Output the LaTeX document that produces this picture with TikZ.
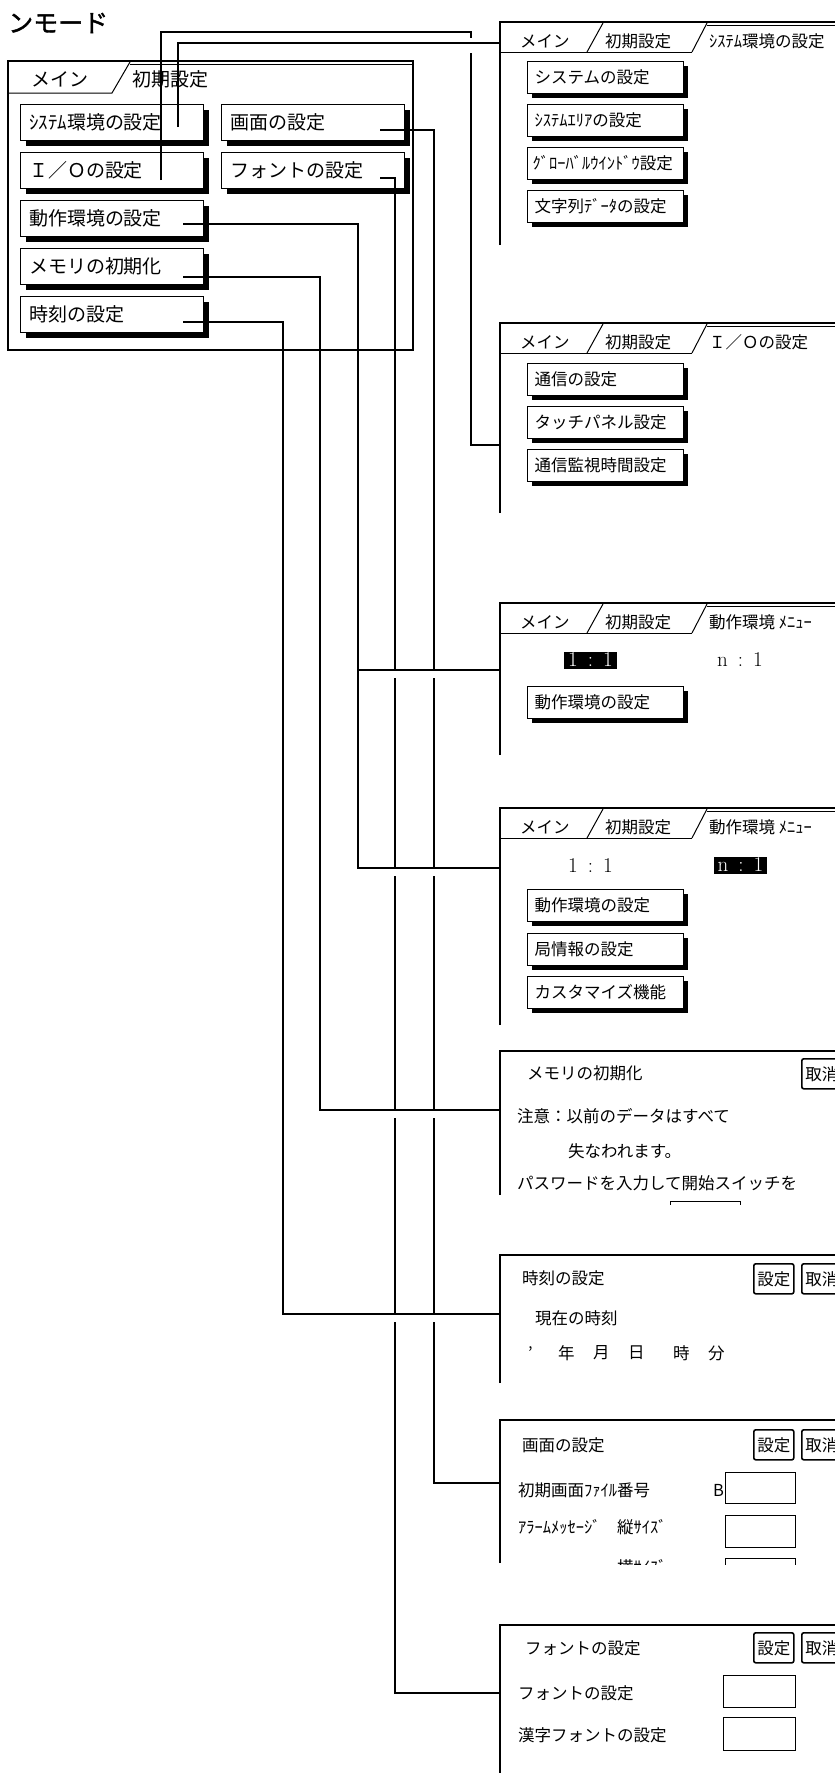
\documentclass[tikz,border=0pt]{standalone}
\usepackage{fontspec}
\newfontfamily\jp{Noto Sans CJK JP}
\newfontfamily\jpbold[AutoFakeBold=1.5]{Noto Sans CJK JP}
\usetikzlibrary{shadows}
\newcommand\tabwin[4]{%
  \draw[win] (500,#2) -- (500,#1) -- (840,#1);
  \draw[thinl] (500,#1+30) -- (692,#1+30);
  \draw[thinl] (587,#1+30) -- (603,#1+1);
  \draw[thinl] (692,#1+30) -- (707,#1+1);
  \draw[thinl] (707,#1+3) -- (840,#1+3);
  \node[rtxt] (#4a) at (520,#1+19) {メイン};
  \node[rtxt] (#4b) at (605,#1+19) {初期設定};
  \node[rtxt] (#4c) at (709,#1+19) {#3};
}
\newcommand\dlgwin[2]{%
  \draw[win] (500,#2) -- (500,#1) -- (840,#1);
}
\newcommand\ratio[2]{#1\hspace{10pt}:\hspace{10pt}#2}
\begin{document}
\begin{tikzpicture}[x=1pt,y=-1pt,
  conn/.style={line width=2pt},
  win/.style={line width=1.4pt},
  thinl/.style={line width=1pt},
  btnbase/.style={draw, fill=white, line width=1pt, anchor=north west, inner ysep=0, align=left},
  mbtn/.style={btnbase, minimum width=183, minimum height=36, text width=166, inner xsep=8.5,
    font=\jp\fontsize{19}{20}\selectfont,
    drop shadow={shadow xshift=5pt, shadow yshift=-5pt, opacity=1, fill=black}},
  rbtn/.style={btnbase, minimum width=156, minimum height=32, text width=142, inner xsep=7,
    font=\jp\fontsize{16.5}{17}\selectfont,
    drop shadow={shadow xshift=4pt, shadow yshift=-4pt, opacity=1, fill=black}},
  mtxt/.style={anchor=west, inner sep=0, font=\jp\fontsize{19}{20}\selectfont},
  rtxt/.style={anchor=west, inner sep=0, font=\jp\fontsize{16.5}{17}\selectfont},
  dbtn/.style={draw, line width=1.6pt, rounded corners=2pt, anchor=north west, minimum width=40,
    minimum height=30, inner sep=0, font=\jp\fontsize{16.5}{17}\selectfont},
  ebox/.style={draw, line width=1pt, anchor=north west, minimum width=70, minimum height=31, inner sep=0},
  hl/.style={fill=black, text=white, inner sep=0, font=\fontsize{21}{21}\selectfont},
  num/.style={anchor=west, inner sep=0, font=\fontsize{21}{21}\selectfont}
]
\useasboundingbox (0,0) rectangle (835,1773);
\clip (0,0) rectangle (835,1773);

% ---------- title ----------
\node[anchor=west, inner sep=0, font=\jpbold\bfseries\fontsize{25}{26}\selectfont] (title) at (8,23) {ンモード};

% ---------- main window ----------
\draw[win] (8,61) rectangle (413,350);
\draw[thinl] (8,93) -- (112,93) -- (130,62);
\draw[thinl] (130,64) -- (413,64);
\node[mtxt] (mtabA) at (31,79) {メイン};
\node[mtxt] (mtabB) at (132,79) {初期設定};

\node[mbtn] (bsys)  at (20,104) {ｼｽﾃﾑ環境の設定};
\node[mbtn] (bgam)  at (221,104) {画面の設定};
\node[mbtn] (bio)   at (20,152) {Ｉ／Ｏの設定};
\node[mbtn] (bfont) at (221,152) {フォントの設定};
\node[mbtn] (bdosa) at (20,200) {動作環境の設定};
\node[mbtn] (bmem)  at (20,248) {メモリの初期化};
\node[mbtn] (bclk)  at (20,296) {時刻の設定};

% ---------- window 1 : system environment ----------
\tabwin{22}{245}{ｼｽﾃﾑ環境の設定}{wa}
\node[rbtn] (w1b1) at (527,61)  {システムの設定};
\node[rbtn] (w1b2) at (527,104) {ｼｽﾃﾑｴﾘｱの設定};
\node[rbtn, inner xsep=5, text width=146] (w1b3) at (527,147) {ｸﾞﾛｰﾊﾞﾙｳｲﾝﾄﾞｳ設定};
\node[rbtn] (w1b4) at (527,190) {文字列ﾃﾞｰﾀの設定};

% ---------- window 2 : I/O ----------
\tabwin{323}{513}{Ｉ／Ｏの設定}{wb}
\node[rbtn] (w2b1) at (527,363) {通信の設定};
\node[rbtn] (w2b2) at (527,406) {タッチパネル設定};
\node[rbtn] (w2b3) at (527,449) {通信監視時間設定};

% ---------- window 3 : operation 1:1 ----------
\tabwin{603}{755}{動作環境 ﾒﾆｭｰ}{wc}
\node[hl, minimum width=53, minimum height=17] (w3one) at (590.5,660) {\ratio{1}{1}};
\node[num] (w3n) at (717,660) {\ratio{n}{1}};
\node[rbtn] (w3b1) at (527,686) {動作環境の設定};

% ---------- window 4 : operation n:1 ----------
\tabwin{808}{1025}{動作環境 ﾒﾆｭｰ}{wd}
\node[num] (w4one) at (568,866) {\ratio{1}{1}};
\node[hl, minimum width=53, minimum height=17] (w4n) at (740.5,865) {\ratio{n}{1}};
\node[rbtn] (w4b1) at (527,889) {動作環境の設定};
\node[rbtn] (w4b2) at (527,933) {局情報の設定};
\node[rbtn] (w4b3) at (527,976) {カスタマイズ機能};

% ---------- window 5 : memory init ----------
\dlgwin{1051}{1195}
\begin{scope}
\clip (490,1040) rectangle (840,1204);
\node[rtxt] (w5t) at (527,1073) {メモリの初期化};
\node[dbtn] (w5c) at (801,1058) {取消};
\node[rtxt] (w5l1) at (517,1116) {注意：以前のデータはすべて};
\node[rtxt] (w5l2) at (568,1151) {失なわれます。};
\node[rtxt] (w5l3) at (517,1183) {パスワードを入力して開始スイッチを};
\node[ebox] (w5e) at (670,1201) {};
\end{scope}

% ---------- window 6 : clock ----------
\dlgwin{1255}{1383}
\node[rtxt] (w6t) at (522,1278) {時刻の設定};
\node[dbtn] (w6s) at (753,1263) {設定};
\node[dbtn] (w6c) at (801,1263) {取消};
\node[rtxt] (w6l) at (535,1318) {現在の時刻};
\node[rtxt] (w6a) at (528,1353) {’};
\node[rtxt] (w6y) at (558,1353) {年};
\node[rtxt] (w6m) at (593,1353) {月};
\node[rtxt] (w6d) at (628,1353) {日};
\node[rtxt] (w6h) at (673,1353) {時};
\node[rtxt] (w6n) at (708,1353) {分};

% ---------- window 7 : screen ----------
\dlgwin{1420}{1563}
\begin{scope}
\clip (490,1410) rectangle (840,1564);
\node[rtxt] (w7t) at (522,1445) {画面の設定};
\node[dbtn] (w7s) at (753,1429) {設定};
\node[dbtn] (w7c) at (801,1429) {取消};
\node[rtxt] (w7l1) at (518,1490) {初期画面ﾌｧｲﾙ番号};
\node[rtxt] (w7B) at (713,1490) {B};
\node[ebox] (w7e1) at (725,1472) {};
\node[rtxt] (w7l2) at (518,1527) {ｱﾗｰﾑﾒｯｾｰｼﾞ};
\node[rtxt] (w7l3) at (617,1527) {縦ｻｲｽﾞ};
\node[ebox, minimum height=32] (w7e2) at (725,1515) {};
\node[rtxt] (w7l4) at (617,1567) {横ｻｲｽﾞ};
\node[ebox, minimum height=32] (w7e3) at (725,1558) {};
\end{scope}

% ---------- window 8 : font ----------
\dlgwin{1625}{1780}
\node[rtxt] (w8t) at (525,1648) {フォントの設定};
\node[dbtn] (w8s) at (753,1632) {設定};
\node[dbtn] (w8c) at (801,1632) {取消};
\node[rtxt] (w8l1) at (518,1693) {フォントの設定};
\node[ebox, minimum width=72, minimum height=32] (w8e1) at (723,1675) {};
\node[rtxt] (w8l2) at (518,1735) {漢字フォントの設定};
\node[ebox, minimum width=72, minimum height=33] (w8e2) at (723,1717) {};

% ---------- connector end points ----------
\coordinate (psys)  at (178,127);
\coordinate (pio)   at (161,180);
\coordinate (pgam)  at (380,130);
\coordinate (pfont) at (380,178);
\coordinate (pdosa) at (183,224);
\coordinate (pmem)  at (183,277);
\coordinate (pclk)  at (183,322);
\coordinate (in1) at (500,43);
\coordinate (in2) at (500,445);
\coordinate (in3) at (500,670);
\coordinate (in4) at (500,868);
\coordinate (in5) at (500,1110);
\coordinate (in6) at (500,1314);
\coordinate (in7) at (500,1483);
\coordinate (in8) at (500,1693);

% ---------- connectors ----------
\draw[conn] (psys) -- (178,43) -- (in1);
\draw[conn] (pio) -- (161,32) -- (471,32) -- (471,38);
\draw[conn] (471,53) -- (471,445) -- (in2);
\draw[conn] (pdosa) -- (358,224) -- (358,868) -- (in4);
\draw[conn] (358,670) -- (in3);
\draw[conn] (pmem) -- (320,277) -- (320,1110) -- (in5);
\draw[conn] (pclk) -- (283,322) -- (283,1314) -- (in6);
\draw[conn] (pgam) -- (434,130) -- (434,670);
\draw[conn] (434,678) -- (434,868);
\draw[conn] (434,876) -- (434,1110);
\draw[conn] (434,1118) -- (434,1314);
\draw[conn] (434,1322) -- (434,1483) -- (in7);
\draw[conn] (pfont) -- (395,178) -- (395,670);
\draw[conn] (395,678) -- (395,868);
\draw[conn] (395,876) -- (395,1110);
\draw[conn] (395,1118) -- (395,1314);
\draw[conn] (395,1322) -- (395,1693) -- (in8);
\end{tikzpicture}
\end{document}
